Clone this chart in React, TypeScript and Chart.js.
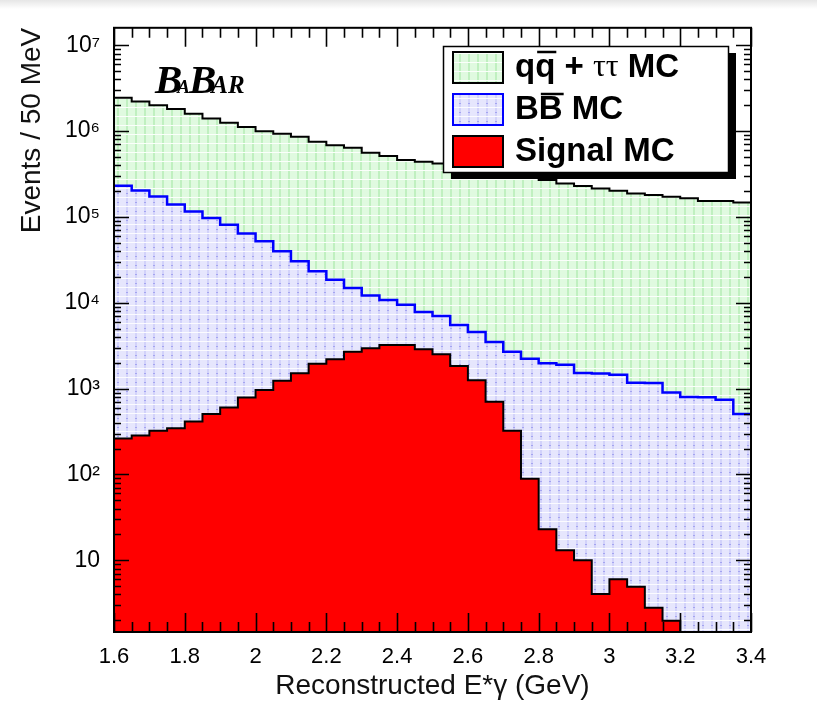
import React, { useEffect, useRef } from 'react';
import { Chart, registerables } from 'chart.js';

Chart.register(...registerables);

// ---------- data ----------
const BIN_LOW = [
  1.6, 1.65, 1.7, 1.75, 1.8, 1.85, 1.9, 1.95, 2.0, 2.05, 2.1, 2.15,
  2.2, 2.25, 2.3, 2.35, 2.4, 2.45, 2.5, 2.55, 2.6, 2.65, 2.7, 2.75,
  2.8, 2.85, 2.9, 2.95, 3.0, 3.05, 3.1, 3.15, 3.2, 3.25, 3.3, 3.35,
];
const BIN_WIDTH = 0.05;

// qq + tautau MC (top of stack, black line)
const TOTAL_MC = [
  2.45e6, 2.22e6, 2.0e6, 1.81e6, 1.6e6, 1.4e6, 1.25e6, 1.12e6, 1.0e6, 9.35e5, 8.6e5, 7.5e5,
  6.86e5, 6.4e5, 5.6e5, 5.15e5, 4.6e5, 4.4e5, 4.2e5, 3.95e5, 3.72e5, 3.45e5, 3.2e5, 2.95e5,
  2.7e5, 2.46e5, 2.3e5, 2.15e5, 2.02e5, 1.88e5, 1.8e5, 1.72e5, 1.65e5, 1.54e5, 1.54e5, 1.47e5,
];
// BB MC (blue line)
const BB_MC = [
  2.31e5, 2.04e5, 1.73e5, 1.4e5, 1.16e5, 9.7e4, 8.1e4, 6.4e4, 5.2e4, 4.0e4, 3.04e4, 2.33e4,
  1.86e4, 1.49e4, 1.22e4, 1.08e4, 9.5e3, 7.8e3, 7.0e3, 5.5e3, 4.56e3, 3.5e3, 2.69e3, 2.23e3,
  1.98e3, 1.9e3, 1.52e3, 1.5e3, 1.45e3, 1.17e3, 1.16e3, 900, 800, 795, 740, 505,
];
// Signal MC (red)
const SIGNAL_MC = [
  262, 284, 324, 345, 415, 506, 604, 789, 961, 1233, 1514, 1955,
  2198, 2694, 2950, 3220, 3220, 2870, 2512, 1840, 1256, 703, 324, 89,
  23, 13.1, 10, 4.05, 6.0, 4.9, 2.8, 1.97, 0, 0, 0, 0,
];

const X_MIN = 1.6;
const X_MAX = 3.4;
const Y_MIN = 1.46;
const Y_MAX = 1.6e7;
const X_TICK_LABELS = ['1.6', '1.8', '2', '2.2', '2.4', '2.6', '2.8', '3', '3.2', '3.4'];
const X_MINOR_STEP = 0.05;
const Y_DECADES = [10, 100, 1000, 1e4, 1e5, 1e6, 1e7];
const Y_TICK_LABELS = ['10', '10²', '10³', '10⁴', '10⁵', '10⁶', '10⁷'];
const LEGEND_LABELS = ['qq + ττ MC', 'BB MC', 'Signal MC'];
const X_TITLE = 'Reconstructed E*γ (GeV)';
const Y_TITLE = 'Events / 50 MeV';

const SANS = '"Liberation Sans", Arial, Helvetica, sans-serif';
const SERIF = '"Liberation Serif", "Times New Roman", serif';
const FLOOR = 0.5; // display value for empty bins (below the axis minimum)

function histPoints(vals: number[]) {
  const pts = vals.map((v, i) => ({ x: BIN_LOW[i], y: v > 0 ? v : FLOOR }));
  pts.push({ x: BIN_LOW[BIN_LOW.length - 1] + BIN_WIDTH, y: pts[pts.length - 1].y });
  return pts;
}

function makePattern(kind: 'green' | 'blue'): CanvasPattern | string {
  const c = document.createElement('canvas');
  c.width = 9;
  c.height = 9;
  const g = c.getContext('2d');
  if (!g) return kind === 'green' ? '#e0f8e0' : '#e4e4fc';
  if (kind === 'green') {
    g.fillStyle = '#e0fae0';
    g.fillRect(0, 0, 9, 9);
    g.fillStyle = '#c0f0c0';
    g.fillRect(0, 0, 2, 9);
    g.fillStyle = '#fbfffb';
    g.fillRect(0, 8, 9, 1);
  } else {
    g.fillStyle = '#e6e6fd';
    g.fillRect(0, 0, 9, 9);
    g.fillStyle = '#d2d2fa';
    g.fillRect(0, 0, 2, 9);
    g.fillStyle = '#fbfbff';
    g.fillRect(0, 8, 9, 1);
    g.fillStyle = '#a4a4f0';
    g.fillRect(0, 4, 2, 1);
  }
  return g.createPattern(c, 'repeat') || '#e4e4fc';
}

const frameAndTicks = {
  id: 'frameAndTicks',
  afterDatasetsDraw(chart: any) {
    const { ctx, chartArea, scales } = chart;
    const { left, right, top, bottom } = chartArea;
    const xs = scales.x;
    const ys = scales.y;
    ctx.save();
    ctx.strokeStyle = '#000';
    ctx.lineWidth = 1.6;
    ctx.beginPath();
    const nMinor = Math.round((X_MAX - X_MIN) / X_MINOR_STEP);
    for (let i = 0; i <= nMinor; i++) {
      const v = X_MIN + i * X_MINOR_STEP;
      const px = Math.round(xs.getPixelForValue(v)) + 0.5;
      const major = i % 4 === 0;
      const len = major ? 19 : 10;
      ctx.moveTo(px, bottom);
      ctx.lineTo(px, bottom - len);
      ctx.moveTo(px, top);
      ctx.lineTo(px, top + len);
    }
    for (let e = 0; e <= 7; e++) {
      const dec = Math.pow(10, e);
      for (let m = 1; m <= 9; m++) {
        const v = m * dec;
        if (v < Y_MIN || v > Y_MAX) continue;
        const py = Math.round(ys.getPixelForValue(v)) + 0.5;
        const len = m === 1 ? 15 : 7;
        ctx.moveTo(left, py);
        ctx.lineTo(left + len, py);
        ctx.moveTo(right, py);
        ctx.lineTo(right - len, py);
      }
    }
    ctx.stroke();
    ctx.lineWidth = 2;
    ctx.strokeRect(left, top, right - left, bottom - top);
    ctx.restore();
  },
};

function makeOverlayPlugin(green: any, blue: any) {
  return {
    id: 'legendAndLogo',
    afterDraw(chart: any) {
      const ctx: CanvasRenderingContext2D = chart.ctx;
      ctx.save();
      // ---- BABAR logo ----
      ctx.fillStyle = '#000';
      ctx.textBaseline = 'alphabetic';
      ctx.textAlign = 'left';
      let lx = 155;
      const ly = 93;
      const big = `italic bold 41px ${SERIF}`;
      const small = `italic bold 19px ${SERIF}`;
      const small2 = `italic bold 25px ${SERIF}`;
      ctx.font = big;
      ctx.fillText('B', lx, ly);
      lx += ctx.measureText('B').width - 5;
      ctx.font = small;
      ctx.fillText('A', lx, ly);
      lx += ctx.measureText('A').width - 1;
      ctx.font = big;
      ctx.fillText('B', lx, ly);
      lx += ctx.measureText('B').width - 5;
      ctx.font = small2;
      ctx.fillText('AR', lx, ly);

      // ---- legend ----
      const bx = 443, by = 46, bw = 285, bh = 126;
      ctx.fillStyle = '#000';
      ctx.fillRect(bx + 8, by + 7, bw, bh);
      ctx.fillStyle = '#fff';
      ctx.fillRect(bx, by, bw, bh);
      ctx.lineWidth = 1.5;
      ctx.strokeStyle = '#000';
      ctx.strokeRect(bx + 0.5, by + 0.5, bw, bh);

      const fills = [green, blue, '#ff0000'];
      const strokes = ['#000', '#0000ff', '#000'];
      const bold = `bold 33px ${SANS}`;
      for (let k = 0; k < 3; k++) {
        const sy = by + 6 + k * 42;
        ctx.fillStyle = fills[k];
        ctx.fillRect(453, sy, 50, 31);
        ctx.lineWidth = 2;
        ctx.strokeStyle = strokes[k];
        ctx.strokeRect(453, sy, 50, 31);
        const my = sy + 16;
        ctx.fillStyle = '#000';
        ctx.textBaseline = 'middle';
        let tx = 515;
        const put = (t: string, font: string, over = false) => {
          ctx.font = font;
          const w = ctx.measureText(t).width;
          ctx.fillText(t, tx, my);
          if (over) {
            ctx.lineWidth = 2.5;
            ctx.strokeStyle = '#000';
            ctx.beginPath();
            ctx.moveTo(tx + 2, my - 16);
            ctx.lineTo(tx + w + 1, my - 16);
            ctx.stroke();
          }
          tx += w;
        };
        const label = LEGEND_LABELS[k];
        if (k === 0) {
          put(label[0], bold);
          put(label[1], bold, true);
          put(' + ', bold);
          put(label.slice(5, 7), `32px ${SERIF}`);
          put(label.slice(7), bold);
        } else if (k === 1) {
          put(label[0], bold);
          put(label[1], bold, true);
          put(label.slice(2), bold);
        } else {
          put(label, bold);
        }
      }
      ctx.restore();
    },
  };
}

export default function App() {
  const ref = useRef<HTMLCanvasElement | null>(null);
  useEffect(() => {
    if (!ref.current) return;
    Chart.defaults.font.family = SANS;
    const green = makePattern('green');
    const blue = makePattern('blue');
    const xTickValues = X_TICK_LABELS.map((s) => parseFloat(s));
    const common = {
      stepped: 'before' as const,
      pointRadius: 0,
      fill: 'start' as const,
      borderCapStyle: 'butt' as const,
      borderJoinStyle: 'miter' as const,
    };
    const chart = new Chart(ref.current, {
      type: 'line',
      data: {
        datasets: [
          {
            ...common,
            label: LEGEND_LABELS[2],
            data: histPoints(SIGNAL_MC),
            borderColor: '#000',
            borderWidth: 2,
            backgroundColor: '#ff0000',
            order: 1,
          },
          {
            ...common,
            label: LEGEND_LABELS[1],
            data: histPoints(BB_MC),
            borderColor: '#0000ff',
            borderWidth: 2.5,
            backgroundColor: blue as any,
            order: 2,
          },
          {
            ...common,
            label: LEGEND_LABELS[0],
            data: histPoints(TOTAL_MC),
            borderColor: '#000',
            borderWidth: 2,
            backgroundColor: green as any,
            order: 3,
          },
        ],
      },
      options: {
        animation: false,
        responsive: false,
        events: [],
        layout: { padding: { top: 25, right: 66, left: 0, bottom: 0 } },
        plugins: {
          legend: { display: false },
          tooltip: { enabled: false },
          title: { display: false },
        },
        scales: {
          x: {
            type: 'linear',
            min: X_MIN,
            max: X_MAX,
            grid: { display: false, drawTicks: false },
            border: { display: false },
            afterBuildTicks: (s: any) => {
              s.ticks = xTickValues.map((v) => ({ value: v }));
            },
            afterFit: (s: any) => {
              s.height = 82;
            },
            ticks: {
              autoSkip: false,
              maxRotation: 0,
              padding: 12,
              color: '#000',
              font: { size: 22, family: SANS },
              callback: (_v: any, i: number) => X_TICK_LABELS[i],
            },
            title: {
              display: true,
              text: X_TITLE,
              color: '#111',
              font: { size: 28, family: SANS },
              padding: { top: 0, bottom: 11 },
            },
          },
          y: {
            type: 'logarithmic',
            min: Y_MIN,
            max: Y_MAX,
            grid: { display: false, drawTicks: false },
            border: { display: false },
            afterBuildTicks: (s: any) => {
              s.ticks = Y_DECADES.map((v) => ({ value: v }));
            },
            afterFit: (s: any) => {
              s.width = 114;
            },
            ticks: {
              autoSkip: false,
              padding: 14,
              color: '#000',
              font: { size: 23, family: SANS },
              callback: (_v: any, i: number) => Y_TICK_LABELS[i],
            },
            title: {
              display: true,
              text: Y_TITLE,
              align: 'end',
              color: '#111',
              font: { size: 28, family: SANS },
              padding: { top: 15, bottom: 0 },
            },
          },
        },
      },
      plugins: [frameAndTicks, makeOverlayPlugin(green, blue)],
    });
    return () => chart.destroy();
  }, []);

  return (
    <div style={{ position: 'absolute', left: 0, top: 0, width: 817, height: 714, background: '#fff' }}>
      <div
        style={{
          position: 'absolute',
          left: 0,
          top: 0,
          width: 817,
          height: 9,
          background: 'linear-gradient(#e6e6e6, #ffffff)',
        }}
      />
      <canvas ref={ref} width={817} height={714} style={{ position: 'absolute', left: 0, top: 0, display: 'block' }} />
    </div>
  );
}
